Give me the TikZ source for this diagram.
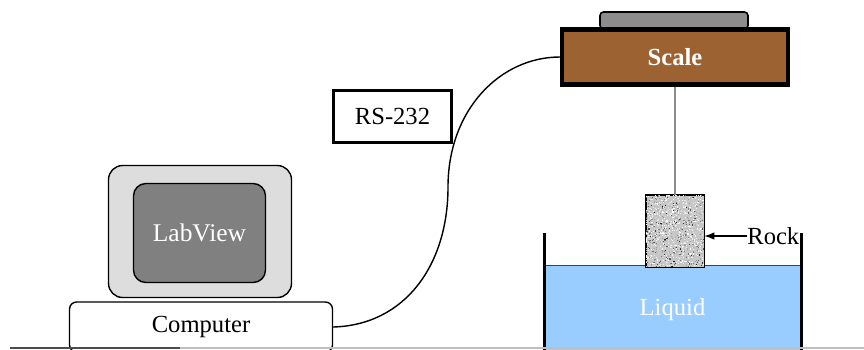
\documentclass[tikz,border=0pt]{standalone}
\usepackage{fontspec}
\setmainfont{Liberation Serif}
\usepackage{tikz}
\usetikzlibrary{arrows.meta,positioning}

\definecolor{scalebrown}{RGB}{156,98,50}
\definecolor{liquidblue}{RGB}{153,204,255}
\definecolor{monitorgray}{RGB}{221,221,221}
\definecolor{screengray}{RGB}{128,128,128}
\definecolor{padgray}{RGB}{140,140,140}

\tikzset{
  box/.style={draw, inner sep=0pt, font=\fontsize{13}{15}\selectfont},
  whitetext/.style={text=white},
}

\begin{document}
\begin{tikzpicture}[x=0.02cm, y=-0.02cm, >=Latex]
\useasboundingbox (0,0) rectangle (864,349);
\clip (0,0) rectangle (864,349);

% scale with its weighing pad
\draw[fill=padgray, line width=0.9pt, rounded corners=2pt] (600,29) rectangle (748,12);
\node[box, line width=2.3pt, fill=scalebrown, whitetext, font=\fontsize{14}{16}\selectfont\bfseries,
      minimum width=4.52cm, minimum height=1.1cm] (scale) at (675,57) {Scale};

% computer
\node[box, line width=0.8pt, fill=monitorgray, rounded corners=8pt,
      minimum width=3.66cm, minimum height=2.64cm] (monitor) at (200,231.5) {};
\node[box, line width=0.8pt, fill=screengray, whitetext, rounded corners=7pt,
      font=\fontsize{14.5}{16}\selectfont,
      minimum width=2.64cm, minimum height=1.98cm] (screen) at (199.5,233) {LabView};
\node[box, line width=0.8pt, fill=white, rounded corners=4pt, font=\fontsize{14}{16}\selectfont,
      minimum width=5.26cm, minimum height=1.0cm] (computer) at (201,327) {Computer};

% serial link
\node[box, line width=1.5pt, font=\fontsize{14}{16}\selectfont,
      minimum width=2.36cm, minimum height=1.04cm] (rs) at (392.5,116.5) {RS-232};
\draw[line width=0.8pt] (computer.east) .. controls (405,325) and (448,265) .. (448,187)
  .. controls (448,110) and (500,57) .. (scale.west);

% tank of liquid
\node[inner sep=0pt, fill=liquidblue, whitetext, font=\fontsize{14}{16}\selectfont,
      minimum width=5.14cm, minimum height=1.76cm] (liquid) at (672.5,310) {Liquid};
\draw[line width=0.5pt, black!75] (liquid.north west) -- (liquid.north east);
\draw[line width=1.7pt] (544,233) -- (544,352);
\draw[line width=1.7pt] (801,233) -- (801,352);

% rock hanging from the scale
\node[draw, inner sep=0pt, fill=black!22, minimum width=1.16cm, minimum height=1.44cm] (rock) at (675,231) {};
\begin{scope}
  \clip (rock.south west) rectangle (rock.north east);
  \pgfmathsetseed{11}
  \foreach \i in {1,...,1400}{
    \pgfmathsetmacro{\rx}{645+60*rnd}
    \pgfmathsetmacro{\ry}{194+74*rnd}
    \pgfmathsetmacro{\rs}{95*rnd*rnd}
    \fill[black!\rs] (\rx,\ry) rectangle ++(1.1,1.1);
  }
\end{scope}
\draw[line width=0.8pt] (rock.south west) rectangle (rock.north east);
\draw[line width=0.8pt, black!45] (scale.south) -- (rock.north);

\node[anchor=west, inner sep=0pt, font=\fontsize{14}{16}\selectfont] (rocklabel) at (747,236) {Rock};
\draw[->, line width=0.6pt] (rocklabel.west) -- (rock.east |- rocklabel.west);

% bottom rule
\draw[line width=0.8pt, black!70] (10,348) -- (180,348);
\draw[line width=0.8pt, black!25] (180,348) -- (864,348);
\end{tikzpicture}
\end{document}
